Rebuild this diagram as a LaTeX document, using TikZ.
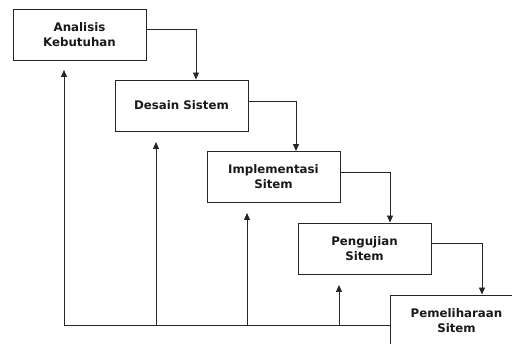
\documentclass[tikz,border=0pt]{standalone}
\usepackage{fontspec}
\setmainfont{DejaVu Sans}
\usetikzlibrary{arrows.meta}
\begin{document}
\begin{tikzpicture}[x=1pt,y=-1pt,
  stage/.style={draw=black!85,line width=0.9pt,minimum width=133pt,minimum height=51pt,inner sep=0pt,align=center,font=\bfseries\fontsize{11.8}{15}\selectfont,text=black!90},
  flow/.style={draw=black!85,line width=0.9pt,-{Triangle[length=7pt,width=6pt]}},
  back/.style={draw=black!85,line width=0.9pt}]
\clip (0,0) rectangle (512,344);
\useasboundingbox (0,0) rectangle (512,344);
\node[stage] (a) at (79.5,34.5) {Analisis\\Kebutuhan};
\node[stage] (b) at (181.5,105.5) {Desain Sistem};
\node[stage] (c) at (273.5,177) {Implementasi\\Sitem};
\node[stage] (d) at (364.5,248.5) {Pengujian\\Sitem};
\node[stage] (e) at (456.5,320.5) {Pemeliharaan\\Sitem};
% forward flow
\draw[flow] ([yshift=5pt]a.east) -| (b.north -| 196,0);
\draw[flow] ([yshift=4.5pt]b.east) -| (c.north -| 296,0);
\draw[flow] ([yshift=5pt]c.east) -| (d.north -| 390,0);
\draw[flow] ([yshift=5.5pt]d.east) -| (e.north -| 482,0);
% feedback
\coordinate (f1) at (64,325);
\coordinate (f2) at (156,325);
\coordinate (f3) at (247,325);
\coordinate (f4) at (339,325);
\draw[back] (f1) -- (e.west |- f1);
\draw[flow] (f1) -- (64,70);
\draw[flow] (f2) -- (156,142);
\draw[flow] (f3) -- (247,213);
\draw[flow] (f4) -- (339,285);
\end{tikzpicture}
\end{document}
